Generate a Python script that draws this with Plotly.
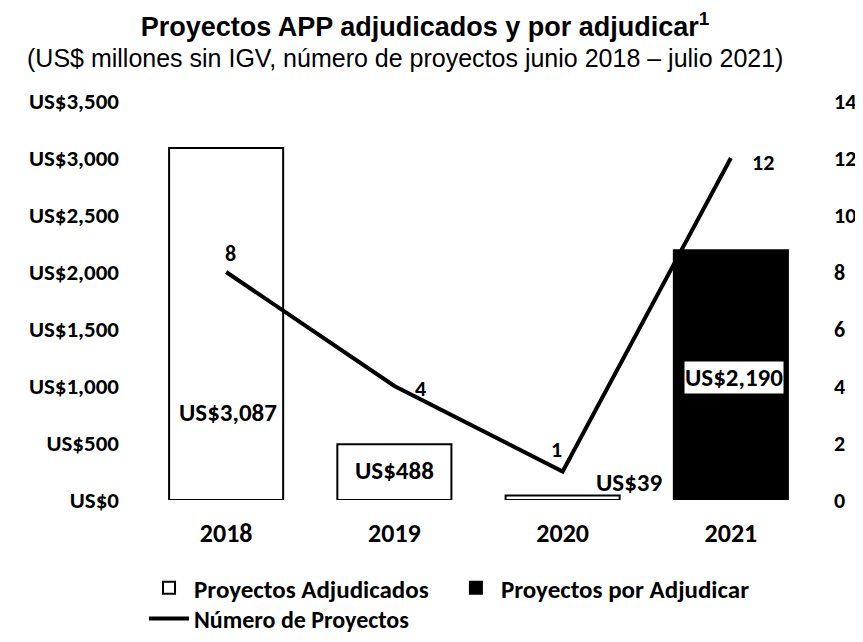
import plotly.graph_objects as go

years = ["2018", "2019", "2020", "2021"]
adjudicados = [3087, 488, 39, None]
por_adjudicar = [None, None, None, 2190]
num_proyectos = [8, 4, 1, 12]
usd_ticks = [0, 500, 1000, 1500, 2000, 2500, 3000, 3500]
usd_ticktext = ["US$0", "US$500", "US$1,000", "US$1,500", "US$2,000", "US$2,500", "US$3,000", "US$3,500"]
count_ticks = [0, 2, 4, 6, 8, 10, 12, 14]

BODY = "Carlito, Calibri, Lato, sans-serif"
HEAD = "'Liberation Sans', Arial, sans-serif"
idx = list(range(len(years)))

# the page shows the figure with an 8px body margin, so the figure is kept
# inside the window; geometry below is in figure px
W, H = 847, 626
PL, PT, PR, PB = 134, 93, 807, 492
pw, ph = PR - PL, PB - PT

fig = go.Figure()
fig.add_trace(go.Bar(
    x=idx, y=adjudicados, name="Proyectos Adjudicados",
    marker=dict(color="white", line=dict(color="black", width=2)),
    legend="legend", yaxis="y",
))
fig.add_trace(go.Bar(
    x=idx, y=por_adjudicar, name="Proyectos por Adjudicar",
    marker=dict(color="black", line=dict(color="black", width=2)),
    legend="legend3", yaxis="y",
))
fig.add_trace(go.Scatter(
    x=idx, y=num_proyectos, name="Número de Proyectos",
    mode="lines", line=dict(color="black", width=4),
    yaxis="y2", legend="legend2",
))

# line value labels (offsets in px)
line_shift = [(4, 19), (26, -2), (-6, 22), (32, -4)]
for i, v in enumerate(num_proyectos):
    fig.add_annotation(
        x=i, y=v, xref="x", yref="y2", text=str(v), showarrow=False,
        xshift=line_shift[i][0], yshift=line_shift[i][1],
        font=dict(family=BODY, size=22, color="black", weight="bold"),
    )

# bar value labels (offsets in px from the base)
label_shift = [(2, 88), (0, 30), (66, 18), (3, 123)]
label_bg = [None, None, None, "white"]
for i in idx:
    v = adjudicados[i] if adjudicados[i] is not None else por_adjudicar[i]
    fig.add_annotation(
        x=i, y=0, xref="x", yref="y", text=f"US${v:,}", showarrow=False,
        xshift=label_shift[i][0], yshift=label_shift[i][1],
        bgcolor=label_bg[i], borderpad=0,
        font=dict(family=BODY, size=25, color="black", weight="bold"),
    )

fig.add_annotation(
    x=(397 - PL) / pw, y=(PB - 50) / ph, xref="paper", yref="paper",
    xanchor="center", yanchor="middle", showarrow=False,
    text="(US$ millones sin IGV, número de proyectos junio 2018 – julio 2021)",
    font=dict(family=HEAD, size=25, color="black", weight="normal"),
)

legend_font = dict(family=BODY, size=25, color="black", weight="bold")
fig.update_layout(
    width=W, height=H, showlegend=True,
    margin=dict(l=PL, r=W - PR, t=PT, b=H - PB, autoexpand=False),
    paper_bgcolor="white", plot_bgcolor="white",
    barmode="overlay", bargap=0.322,
    font=dict(family=BODY, size=23, color="black", weight="bold"),
    title=dict(
        text="<b>Proyectos APP adjudicados y por adjudicar<sup>1</sup></b>",
        x=417 / W, xref="container", xanchor="center",
        y=1 - 19 / H, yref="container", yanchor="middle",
        font=dict(family=HEAD, size=27, color="black"),
    ),
    xaxis=dict(
        range=[-0.5, 3.5], tickvals=idx, ticktext=years, automargin=False,
        showline=False, showgrid=False, zeroline=False, ticks="",
        ticklabelstandoff=15,
        tickfont=dict(family=BODY, size=26, color="black", weight="bold"),
    ),
    yaxis=dict(
        range=[0, 3500], tickvals=usd_ticks, ticktext=usd_ticktext, automargin=False,
        showgrid=False, zeroline=False, showline=False, ticks="",
        ticklabelstandoff=22,
        tickfont=dict(family=BODY, size=23, color="black", weight="bold"),
    ),
    yaxis2=dict(
        range=[0, 14], tickvals=count_ticks, overlaying="y", side="right", automargin=False,
        showgrid=False, zeroline=False, showline=False, ticks="",
        ticklabelstandoff=18,
        tickfont=dict(family=BODY, size=22, color="black", weight="bold"),
    ),
    legend=dict(
        orientation="h", x=0.003, xref="paper", y=1 - 580 / H, yref="container",
        yanchor="middle", font=legend_font, itemwidth=40, bgcolor="rgba(0,0,0,0)",
    ),
    legend3=dict(
        orientation="h", x=0.459, xref="paper", y=1 - 580 / H, yref="container",
        yanchor="middle", font=legend_font, itemwidth=40, bgcolor="rgba(0,0,0,0)",
    ),
    legend2=dict(
        orientation="h", x=0.003, xref="paper", y=1 - 611 / H, yref="container",
        yanchor="middle",
        font=dict(family=BODY, size=24, color="black", weight="bold"),
        itemwidth=40, bgcolor="rgba(0,0,0,0)",
    ),
)

fig.write_html("out.html")
